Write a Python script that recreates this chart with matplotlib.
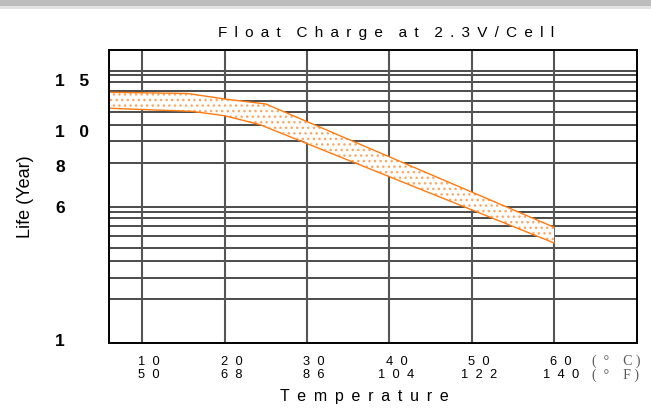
import numpy as np
import matplotlib
matplotlib.use("Agg")
import matplotlib.pyplot as plt
from matplotlib.patches import Rectangle
import matplotlib.transforms as mtransforms

# ---------------- data ----------------
temp_c = [10, 20, 30, 40, 50, 60]
temp_f = [50, 68, 86, 104, 122, 140]
life_ticks = [15, 10, 8, 6, 1]
life_tick_labels = ["1   5", "1   0", "8", "6", "1"]

# chart's own (non-uniform) life axis: life value -> relative height
scale_life = [0.84, 1, 6, 8, 10, 15, 17.9]
scale_pos = [0.0, 0.01465, 0.4676, 0.6073, 0.7265, 0.9002, 1.0]

# horizontal grid lines (life, years)
grid_life = [15.76, 15.40, 14.68, 13.82, 12.84, 11.79, 10.46, 9.35, 8.11,
             5.95, 5.77, 5.55, 5.24, 4.86, 4.41, 3.92, 3.29, 2.50]

# float-life band
upper_t = [6, 15.5, 20, 25, 60]
upper_life = [13.70, 13.58, 13.04, 12.55, 5.20]
lower_t = [6, 16, 20, 24.3, 60]
lower_life = [12.13, 11.83, 11.40, 10.52, 4.61]

title = "Float Charge at 2.3V/Cell"
xlabel = "Temperature"
ylabel = "Life (Year)"

FAM = ["Liberation Sans", "DejaVu Sans"]


def spaced(s, gap="  ", word="     "):
    return word.join(gap.join(w) for w in s.split(" "))


# ---------------- figure ----------------
fig = plt.figure(figsize=(6.51, 4.14), dpi=100)
fig.patch.set_facecolor("white")
fig.patches.append(Rectangle((0, 1 - 7 / 414), 1, 7 / 414, transform=fig.transFigure,
                             facecolor="#bcbcbc", edgecolor="none"))
fig.patches.append(Rectangle((0, 1 - 9.5 / 414), 1, 2.5 / 414, transform=fig.transFigure,
                             facecolor="#e2e2e2", edgecolor="none"))

ax = fig.add_axes([109.3 / 651, 1 - 344.3 / 414, 527.2 / 651, 293.6 / 414])


def fwd(v):
    return np.interp(v, scale_life, scale_pos)


def inv(u):
    return np.interp(u, scale_pos, scale_life)


ax.set_yscale("function", functions=(fwd, inv))
ax.set_xlim(6, 70)
ax.set_ylim(scale_life[0], scale_life[-1])

# grid
for y in grid_life:
    ax.axhline(y, color="#1a1a1a", lw=1.1, zorder=1)
for x in temp_c:
    ax.axvline(x, color="#555555", lw=1.5, zorder=1)

# band
xs = np.array(sorted(set(upper_t) | set(lower_t)), dtype=float)
up = np.interp(xs, upper_t, upper_life)
lo = np.interp(xs, lower_t, lower_life)
ax.fill_between(xs, lo, up, facecolor="white", edgecolor="#f8a868",
                hatch="...", linewidth=0, zorder=2)
ax.plot(upper_t, upper_life, color="#ff7a10", lw=1.0, zorder=3)
ax.plot(lower_t, lower_life, color="#ff7a10", lw=1.0, zorder=3)

for s in ax.spines.values():
    s.set_color("black")
    s.set_linewidth(1.4)
    s.set_zorder(4)

# y ticks
ax.yaxis.set_minor_locator(matplotlib.ticker.NullLocator())
ax.set_yticks(life_ticks)
ax.set_yticklabels(life_tick_labels, fontsize=12.5, fontweight="bold",
                   family="Liberation Sans")
ax.tick_params(axis="y", length=0, pad=39)
for lab in ax.get_yticklabels():
    lab.set_horizontalalignment("left")

# x ticks
ax.set_xticks(temp_c)
ax.set_xticklabels([spaced(str(c)) + "\n" + spaced(str(f))
                    for c, f in zip(temp_c, temp_f)],
                   fontsize=9.3, family="Liberation Sans", linespacing=1.15)
ax.tick_params(axis="x", length=0, pad=8.5)
offset = mtransforms.ScaledTranslation(7 / 100, 0, fig.dpi_scale_trans)
for lab in ax.get_xticklabels():
    lab.set_transform(lab.get_transform() + offset)

ax.text((616 - 109.3) / 527.2, (344.3 - 361) / 293.6, "(  °    C )",
        transform=ax.transAxes, ha="center", va="center", fontsize=10,
        family="Liberation Serif", color="#555555")
ax.text((616 - 109.3) / 527.2, (344.3 - 375) / 293.6, "(  °    F )",
        transform=ax.transAxes, ha="center", va="center", fontsize=10,
        family="Liberation Serif", color="#555555")

ax.set_xlabel(spaced(xlabel, gap=" \u2009"), fontsize=11.5, family=FAM)
ax.xaxis.set_label_coords((364 - 109.3) / 527.2, (344.3 - 397) / 293.6)
ax.xaxis.label.set_verticalalignment("center")

ax.set_ylabel(ylabel, fontsize=13, family="Liberation Sans")
ax.yaxis.set_label_coords((25 - 109.3) / 527.2, (344.3 - 197) / 293.6)
ax.yaxis.label.set_verticalalignment("center")

ax.text((386 - 109.3) / 527.2, (344.3 - 33) / 293.6,
        spaced(title, gap=" \u2009", word="   \u2009"),
        transform=ax.transAxes, ha="center", va="center", fontsize=11,
        family=FAM)

fig.savefig("out.png", dpi=100)
